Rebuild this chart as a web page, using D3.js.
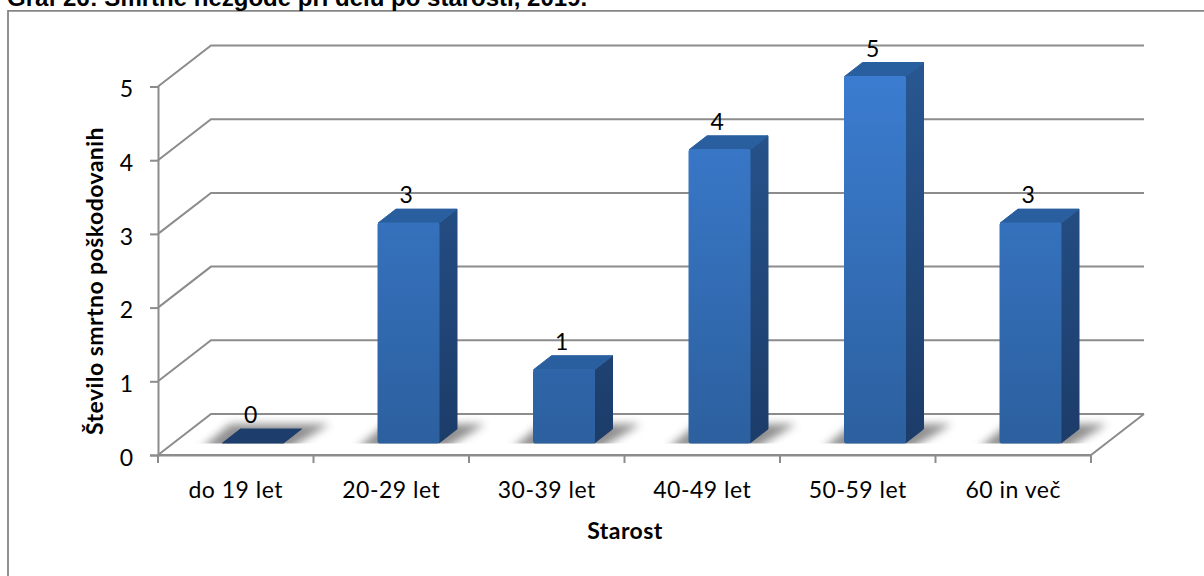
<!DOCTYPE html>
<html lang="sl">
<head>
<meta charset="utf-8">
<title>Smrtne nezgode pri delu po starosti</title>
<script src="https://cdn.jsdelivr.net/npm/d3@7/dist/d3.min.js"></script>
<style>
  html, body { margin: 0; padding: 0; background: #fff; overflow: hidden; }
  svg { display: block; }
  text { font-family: Lato, "Open Sans", sans-serif; fill: #000; }
  .title { font-family: "Liberation Sans", Arial, sans-serif; font-weight: 700; font-size: 24px; }
  .axis-title { font-weight: 700; font-size: 23px; letter-spacing: 0.45px; }
  .tick text { font-size: 23px; fill: #000; letter-spacing: 0.5px; }
  .value { font-size: 23px; }
</style>
</head>
<body>
<script>
// Fatal workplace accidents by age group
const titleText = "Graf 26: Smrtne nezgode pri delu po starosti, 2019.";
const yAxisTitle = "Število smrtno poškodovanih";
const xAxisTitle = "Starost";
const ageGroups = ["do 19 let", "20-29 let", "30-39 let", "40-49 let", "50-59 let", "60 in več"];
const victims = [0, 3, 1, 4, 5, 3];
const yTicks = [0, 1, 2, 3, 4, 5];

const width = 1204, height = 576;
const gridColor = "#8c8c8c";

// Oblique projection of the chart box
const wall = { dx: 53, dy: -41 };       // front edge to back wall
const barDepth = { dx: 18, dy: -14 };   // front face to back of a column
const barOffset = 64.5;                 // column front corner, from the start of its band
const barWidth = 61;

const x = d3.scaleBand().domain(ageGroups).range([158, 1091]);
const y = d3.scaleLinear().domain([0, 5]).range([455, 86.5]);
const yBar = d3.scaleLinear().domain([0, 5]).range([443, 76.5]);   // columns stand further back on the floor

const svg = d3.select("body").append("svg")
  .attr("width", width).attr("height", height);

const defs = svg.append("defs");

function verticalGradient(id, top, bottom) {
  const g = defs.append("linearGradient").attr("id", id)
    .attr("gradientUnits", "userSpaceOnUse")
    .attr("x1", 0).attr("x2", 0).attr("y1", yBar(5)).attr("y2", yBar(0));
  g.append("stop").attr("offset", 0).attr("stop-color", top);
  g.append("stop").attr("offset", 1).attr("stop-color", bottom);
}
verticalGradient("frontFace", "#3b7cd0", "#2c609f");
verticalGradient("sideFace", "#285690", "#1c3c69");
defs.append("filter").attr("id", "floorShadow")
  .attr("x", "-30%").attr("y", "-60%").attr("width", "160%").attr("height", "220%")
  .append("feGaussianBlur").attr("stdDeviation", 4);
defs.append("clipPath").attr("id", "floorClip").append("rect")
  .attr("x", x.range()[0]).attr("y", yBar(0) - 60)
  .attr("width", x.range()[1] - x.range()[0] + wall.dx).attr("height", 60.5);

// Sheet outline and heading
svg.append("path").attr("fill", "none").attr("stroke", "#868686").attr("stroke-width", 1.8)
  .attr("d", `M8 ${height}V10.8H${width}`);
svg.append("text").attr("class", "title").attr("x", 7).attr("y", 6).text(titleText);

// Wall and floor grid lines
const grid = svg.append("g").attr("fill", "none").attr("stroke", gridColor).attr("stroke-width", 2);
grid.selectAll("path").data(yTicks).join("path")
  .attr("d", t => d3.line()([
    [x.range()[0], y(t)],
    [x.range()[0] + wall.dx, y(t) + wall.dy],
    [x.range()[1] + wall.dx, y(t) + wall.dy]
  ]));
grid.append("path").attr("d", d3.line()([
  [x.range()[0], y(0)], [x.range()[1], y(0)], [x.range()[1] + wall.dx, y(0) + wall.dy]
]));

// Axes
const yAxis = svg.append("g").attr("transform", `translate(${x.range()[0]},0)`)
  .call(d3.axisLeft(y).tickValues(yTicks).tickFormat(d3.format("d")).tickSize(8).tickPadding(17));
yAxis.selectAll(".tick text").attr("dy", "0.45em").style("letter-spacing", 0);
const xAxis = svg.append("g").attr("transform", `translate(0,${y(0)})`)
  .call(d3.axisBottom(x).tickSize(0).tickPadding(27));
xAxis.selectAll(".tick line").remove();
xAxis.selectAll(".bound").data([x.range()[0], ...ageGroups.map(d => x(d) + x.bandwidth())]).join("line")
  .attr("class", "bound").attr("x1", d => d).attr("x2", d => d).attr("y1", 0).attr("y2", 8)
  .attr("stroke", gridColor).attr("stroke-width", 2);
[yAxis, xAxis].forEach(a => {
  a.select(".domain").attr("stroke", gridColor).attr("stroke-width", 2);
  a.selectAll(".tick line").attr("stroke", gridColor).attr("stroke-width", 2);
  a.attr("font-family", null).attr("font-size", null);
});

svg.append("text").attr("class", "axis-title").attr("text-anchor", "middle")
  .attr("transform", `translate(103,281) rotate(-90)`).text(yAxisTitle);
svg.append("text").attr("class", "axis-title").attr("text-anchor", "middle")
  .attr("x", 625).attr("y", 539).text(xAxisTitle);

// Columns
const columns = ageGroups.map((g, i) => {
  const left = x(g) + barOffset, right = left + barWidth;
  return { group: g, value: victims[i], left, right, base: yBar(0), top: yBar(victims[i]) };
});

// Soft shadows cast on the floor, cut off along the columns' front line
svg.append("g").attr("clip-path", "url(#floorClip)")
  .selectAll("path").data(columns).join("path")
  .attr("fill", "#7c7c7c").attr("opacity", 0.85).attr("filter", "url(#floorShadow)")
  .attr("d", c => d3.line()([
    [c.left - 22, c.base + 6], [c.right + 5, c.base + 6],
    [c.right + barDepth.dx + 28, c.base - 19], [c.left + 8, c.base - 19]
  ]));

const col = svg.append("g").selectAll("g").data(columns).join("g")
  .attr("stroke-linejoin", "round").attr("stroke-width", 1);

col.filter(c => c.value > 0).append("path").attr("fill", "url(#sideFace)").attr("stroke", "url(#sideFace)")
  .attr("d", c => d3.line()([
    [c.right, c.top], [c.right + barDepth.dx, c.top + barDepth.dy],
    [c.right + barDepth.dx, c.base + barDepth.dy], [c.right, c.base]
  ]) + "Z");
// The lid is all that shows of a zero column, in a darker blue
col.append("path")
  .attr("fill", c => c.value === 0 ? "#1d3e6c" : "#2a5f9f")
  .attr("stroke", c => c.value === 0 ? "#1d3e6c" : "#2a5f9f")
  .attr("d", c => d3.line()([
    [c.left, c.top], [c.left + barDepth.dx, c.top + barDepth.dy],
    [c.right + barDepth.dx, c.top + barDepth.dy], [c.right, c.top]
  ]) + "Z");
col.filter(c => c.value > 0).append("rect")
  .attr("fill", "url(#frontFace)").attr("stroke", "url(#frontFace)")
  .attr("x", c => c.left).attr("y", c => c.top).attr("rx", 1.5)
  .attr("width", barWidth).attr("height", c => c.base - c.top);

// Value labels
svg.append("g").selectAll("text").data(columns).join("text")
  .attr("class", "value").attr("text-anchor", "middle")
  .attr("x", c => x(c.group) + x.bandwidth() / 2 + 15)
  .attr("y", c => c.top - 20)
  .text(c => c.value);
</script>
</body>
</html>
